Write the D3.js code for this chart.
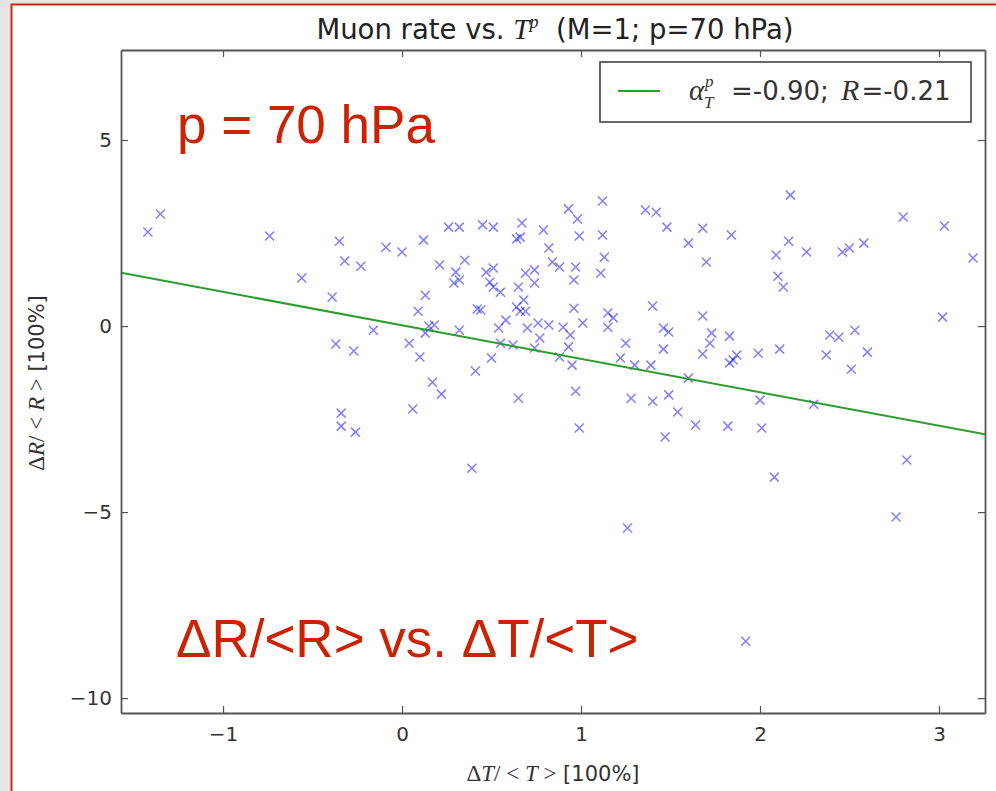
<!DOCTYPE html>
<html lang="en">
<head>
<meta charset="UTF-8">
<title>Muon rate vs. T^p</title>
<style>
  html, body { margin: 0; padding: 0; background: #e5e5e5; }
  svg { display: block; }
  .tick text { font-family: "DejaVu Sans", sans-serif; font-size: 20px; fill: #333; }
  .math { font-family: "Liberation Serif", "DejaVu Serif", serif; font-style: italic; }
  .sans { font-family: "DejaVu Sans", sans-serif; }
</style>
</head>
<body>
<svg width="996" height="791"></svg>
<script src="https://d3js.org/d3.v7.min.js"></script>
<script>
// tick positions
const xTicks = [-1, 0, 1, 2, 3];
const yTicks = [-10, -5, 0, 5];

// ΔT/<T> and ΔR/<R> of each day, in units of 100%
const dT = [
  -1.42, -1.35, -0.74, -0.56, -0.35, -0.32, -0.23, -0.39, -0.09, 0.00,
  0.12, 0.21, 0.26, 0.13, 0.09, 0.15, 0.18, 0.13, -0.16, -0.37,
  -0.27, 0.04, 0.10, 0.17, 0.22, -0.34, -0.34, -0.26, 0.06,
  0.32, 0.45, 0.51, 0.67, 0.79, 0.93, 0.98, 0.99, 0.64, 0.66,
  0.82, 0.35, 0.30, 0.32, 0.29, 0.47, 0.51, 0.49, 0.51, 0.55,
  0.69, 0.74, 0.74, 0.65, 0.84, 0.88, 0.97, 0.96, 0.42, 0.44,
  0.64, 0.68, 0.66, 0.69, 0.96, 0.58, 0.54, 1.01, 0.32, 0.70,
  0.76, 0.82, 0.77, 0.90, 0.94, 0.93, 0.55, 0.62, 0.74, 0.88,
  0.95, 0.50, 0.41, 0.65, 0.97, 0.99, 0.39,
  1.12, 1.36, 1.42, 1.48, 1.68, 1.84, 1.60, 1.70, 1.12, 1.13,
  1.11, 1.40, 1.15, 1.18, 1.15, 1.68, 1.46, 1.49, 1.73, 1.72,
  1.83, 1.25, 1.46, 1.68, 1.85, 1.83, 1.87, 1.99, 1.22, 1.30,
  1.39, 1.60, 1.28, 1.40, 1.49, 1.54, 1.64, 1.82, 2.00, 2.01,
  1.47, 1.26,
  2.17, 2.09, 2.16, 2.26, 2.10, 2.13, 2.46, 2.50, 2.58, 2.80,
  3.03, 3.19, 3.02, 2.11, 2.39, 2.44, 2.53, 2.37, 2.60, 2.51,
  2.30, 2.08, 2.82, 2.76, 1.92
];
const dR = [
  2.53, 3.01, 2.42, 1.29, 2.28, 1.75, 1.61, 0.78, 2.12, 1.99,
  2.31, 1.64, 2.66, 0.83, 0.40, 0.00, 0.03, -0.19, -0.11, -0.48,
  -0.67, -0.46, -0.83, -1.51, -1.83, -2.34, -2.69, -2.85, -2.23,
  2.66, 2.72, 2.66, 2.77, 2.58, 3.15, 2.88, 2.42, 2.34, 2.39,
  2.10, 1.77, 1.45, 1.24, 1.16, 1.45, 1.56, 1.18, 1.05, 0.91,
  1.42, 1.51, 1.16, 1.05, 1.72, 1.59, 1.59, 1.24, 0.46, 0.43,
  0.51, 0.70, 0.40, 0.40, 0.48, 0.16, -0.05, 0.08, -0.11, -0.05,
  0.08, 0.03, -0.32, -0.03, -0.24, -0.56, -0.46, -0.51, -0.59, -0.83,
  -1.05, -0.86, -1.21, -1.94, -1.75, -2.74, -3.82,
  3.36, 3.12, 3.06, 2.66, 2.63, 2.45, 2.23, 1.72, 2.45, 1.85,
  1.42, 0.54, 0.35, 0.22, -0.03, 0.27, -0.05, -0.16, -0.19, -0.46,
  -0.27, -0.46, -0.62, -0.75, -0.91, -0.99, -0.78, -0.73, -0.86, -1.05,
  -1.05, -1.40, -1.94, -2.02, -1.85, -2.31, -2.66, -2.69, -1.99, -2.74,
  -2.98, -5.43,
  3.52, 1.91, 2.28, 1.99, 1.34, 1.05, 1.99, 2.10, 2.23, 2.93,
  2.69, 1.83, 0.24, -0.62, -0.24, -0.30, -0.11, -0.78, -0.70, -1.16,
  -2.10, -4.06, -3.60, -5.13, -8.47
];

// linear fit shown in the legend
const fitSlope = -0.90;
const fitIntercept = 0.02;
const fitR = -0.21;

const svg = d3.select("svg");
const mLeft = 121, mTop = 50, mRight = 985, mBottom = 713;

// page frame
svg.append("rect")
  .attr("x", 11.5).attr("y", 4.5)
  .attr("width", 1000).attr("height", 800)
  .attr("fill", "#fff")
  .attr("stroke", "#cc2a0e")
  .attr("stroke-width", 2);

const x = d3.scaleLinear().domain([-1.57, 3.257]).range([mLeft, mRight]);
const y = d3.scaleLinear().domain([-10.4, 7.42]).range([mBottom, mTop]);

svg.append("clipPath").attr("id", "plot")
  .append("rect")
  .attr("x", mLeft).attr("y", mTop)
  .attr("width", mRight - mLeft).attr("height", mBottom - mTop);

const plot = svg.append("g").attr("clip-path", "url(#plot)");

// points
const pts = dT.map((t, i) => ({ t: t, r: dR[i] }));
const s = 4.5;
plot.selectAll("path.pt")
  .data(pts)
  .enter()
  .append("path")
  .attr("class", "pt")
  .attr("transform", d => `translate(${x(d.t)},${y(d.r)})`)
  .attr("d", `M${-s},${-s}L${s},${s}M${-s},${s}L${s},${-s}`)
  .attr("fill", "none")
  .attr("stroke", "#0000ff")
  .attr("stroke-opacity", 0.5)
  .attr("stroke-width", 1.5);

// fit line
const xd = x.domain();
plot.append("line")
  .attr("x1", x(xd[0])).attr("y1", y(fitIntercept + fitSlope * xd[0]))
  .attr("x2", x(xd[1])).attr("y2", y(fitIntercept + fitSlope * xd[1]))
  .attr("stroke", "#2c9c2c")
  .attr("stroke-width", 2);

// axes with inward ticks on all four sides
function styleAxis(g) {
  g.select(".domain").attr("stroke", "#555").attr("stroke-width", 1.8);
  g.selectAll(".tick line").attr("stroke", "#555").attr("stroke-width", 1.2);
}
const fmt = d3.format("d");
svg.append("g")
  .attr("transform", `translate(0,${mBottom})`)
  .call(d3.axisBottom(x).tickValues(xTicks).tickFormat(fmt).tickSize(-7).tickSizeOuter(0).tickPadding(14))
  .call(styleAxis);
svg.append("g")
  .attr("transform", `translate(0,${mTop})`)
  .call(d3.axisTop(x).tickValues(xTicks).tickSize(-7).tickSizeOuter(0).tickFormat(""))
  .call(styleAxis);
svg.append("g")
  .attr("transform", `translate(${mLeft},0)`)
  .call(d3.axisLeft(y).tickValues(yTicks).tickFormat(fmt).tickSize(-7).tickSizeOuter(0).tickPadding(9))
  .call(styleAxis);
svg.append("g")
  .attr("transform", `translate(${mRight},0)`)
  .call(d3.axisRight(y).tickValues(yTicks).tickSize(-7).tickSizeOuter(0).tickFormat(""))
  .call(styleAxis);
svg.selectAll(".tick text").attr("font-family", null).attr("font-size", null);

// title
const title = svg.append("text")
  .attr("x", 555).attr("y", 39)
  .attr("text-anchor", "middle")
  .style("white-space", "pre")
  .attr("fill", "#222");
title.append("tspan").attr("class", "sans").attr("font-size", 27.5).text("Muon rate vs. ");
title.append("tspan").attr("class", "math").attr("font-size", 29).text("T");
title.append("tspan").attr("class", "math").attr("font-size", 18).attr("dy", -11).text("p");
title.append("tspan").attr("class", "sans").attr("font-size", 27.5).attr("dy", 11).text("  (M=1; p=70 hPa)");

// axis labels
const xl = svg.append("text")
  .attr("x", 553).attr("y", 781)
  .attr("text-anchor", "middle")
  .style("white-space", "pre")
  .attr("fill", "#333");
xl.append("tspan").attr("font-family", "Liberation Serif, serif").attr("font-size", 23).text("Δ");
xl.append("tspan").attr("class", "math").attr("font-size", 23).text("T");
xl.append("tspan").attr("font-family", "Liberation Serif, serif").attr("font-size", 23).text("/ < ");
xl.append("tspan").attr("class", "math").attr("font-size", 23).text("T");
xl.append("tspan").attr("font-family", "Liberation Serif, serif").attr("font-size", 23).text(" >");
xl.append("tspan").attr("class", "sans").attr("font-size", 21).text(" [100%]");

const yl = svg.append("text")
  .attr("transform", "translate(44,383) rotate(-90)")
  .attr("text-anchor", "middle")
  .style("white-space", "pre")
  .attr("fill", "#333");
yl.append("tspan").attr("font-family", "Liberation Serif, serif").attr("font-size", 23).text("Δ");
yl.append("tspan").attr("class", "math").attr("font-size", 23).text("R");
yl.append("tspan").attr("font-family", "Liberation Serif, serif").attr("font-size", 23).text("/ < ");
yl.append("tspan").attr("class", "math").attr("font-size", 23).text("R");
yl.append("tspan").attr("font-family", "Liberation Serif, serif").attr("font-size", 23).text(" >");
yl.append("tspan").attr("class", "sans").attr("font-size", 21).text(" [100%]");

// legend
const lg = svg.append("g");
lg.append("rect")
  .attr("x", 600).attr("y", 62)
  .attr("width", 371).attr("height", 60)
  .attr("fill", "#fff")
  .attr("stroke", "#444")
  .attr("stroke-width", 1.6);
lg.append("line")
  .attr("x1", 618).attr("x2", 660)
  .attr("y1", 91).attr("y2", 91)
  .attr("stroke", "#2c9c2c")
  .attr("stroke-width", 2);
lg.append("text").attr("class", "math").attr("x", 689).attr("y", 100)
  .attr("font-size", 29).attr("fill", "#333").text("α");
lg.append("text").attr("class", "math").attr("x", 705).attr("y", 87)
  .attr("font-size", 17).attr("fill", "#333").text("p");
lg.append("text").attr("class", "math").attr("x", 704).attr("y", 108)
  .attr("font-size", 17).attr("fill", "#333").text("T");
const lt = lg.append("text").attr("x", 731).attr("y", 100)
  .style("white-space", "pre").attr("fill", "#333");
lt.append("tspan").attr("class", "sans").attr("font-size", 26).text(`=${fitSlope.toFixed(2)}; `);
lt.append("tspan").attr("class", "math").attr("font-size", 30).attr("dx", 4).text("R");
lt.append("tspan").attr("class", "sans").attr("font-size", 26).attr("dx", 2).text(`=${fitR.toFixed(2)}`);

// red annotations
svg.append("text")
  .attr("x", 177).attr("y", 143)
  .attr("font-family", "Liberation Sans, Arial, sans-serif")
  .attr("font-size", 53)
  .attr("fill", "#cc2200")
  .text("p = 70 hPa");
svg.append("text")
  .attr("x", 176).attr("y", 657)
  .attr("font-family", "Liberation Sans, Arial, sans-serif")
  .attr("font-size", 53)
  .attr("fill", "#cc2200")
  .text("ΔR/<R> vs. ΔT/<T>");
</script>
</body>
</html>
